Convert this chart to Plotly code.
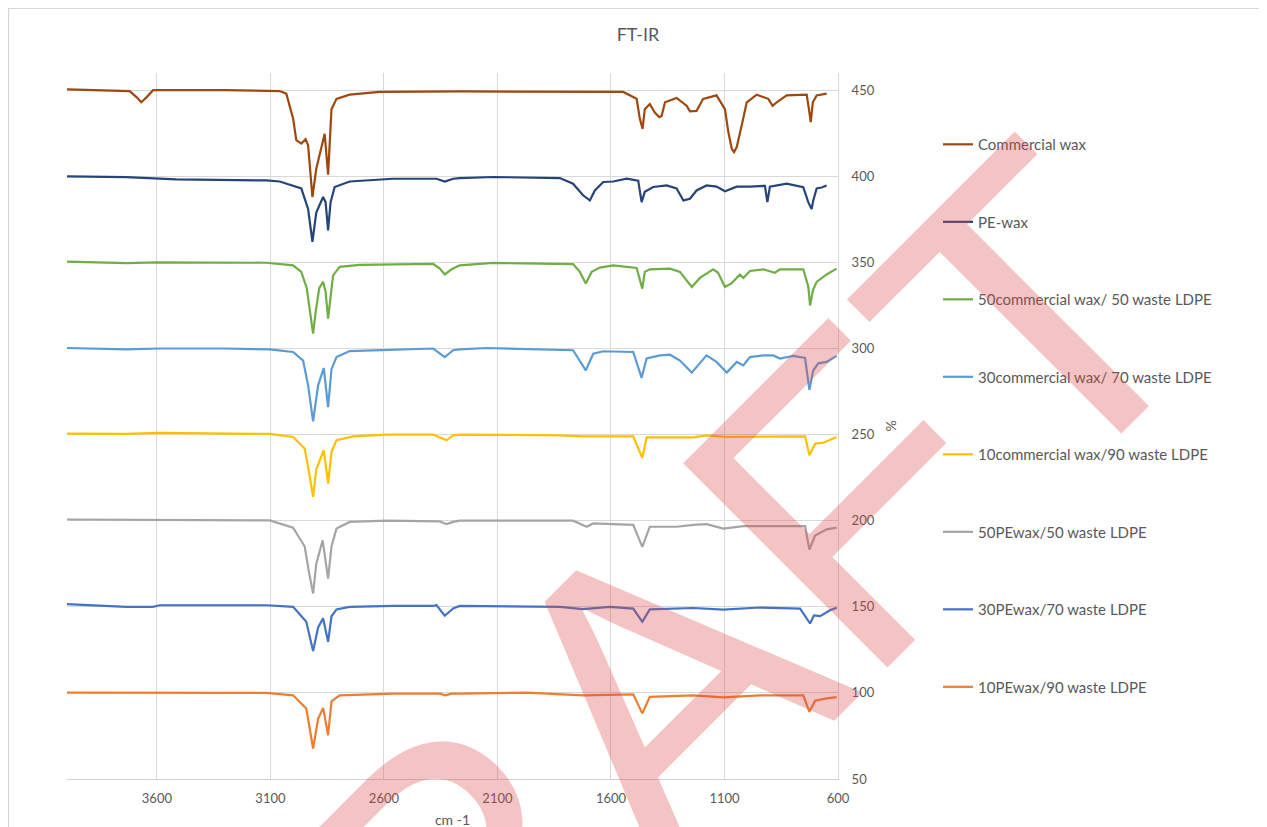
import plotly.graph_objects as go

# ---------------- data (wavenumber cm-1, offset % transmittance) ----------------
wn_commercial = [3996, 3760, 3720, 3690, 3669, 3645, 3617, 3300, 3059, 3030, 3000, 2986, 2964, 2945, 2934,
                 2915, 2898, 2861, 2846, 2831, 2809, 2751, 2619, 2266, 1546, 1487, 1473, 1461, 1451, 1429,
                 1407, 1387, 1377, 1362, 1311, 1267, 1252, 1223, 1194, 1135, 1098, 1083, 1068, 1058, 1046,
                 1024, 1002, 958, 907, 888, 870, 826, 738, 728, 720, 711, 694, 650]
pct_commercial = [450.5, 450, 449.5, 446, 443, 446, 450, 450, 449.5, 448, 433.5, 421, 419, 421.5, 418,
                  388, 404.4, 424.7, 401, 439, 445, 447.4, 449, 449.3, 449, 445, 433.5, 427.6, 439, 442,
                  437, 434.4, 435, 443, 445.5, 441, 437.7, 438, 445, 447, 439, 425.7, 416, 414, 417,
                  429.6, 443, 447.4, 445, 441, 443, 447, 447.4, 439, 431.5, 443, 447, 448]

wn_pewax = [3996, 3735, 3514, 3118, 3059, 3000, 2964, 2949, 2934, 2915, 2898, 2868, 2857, 2846, 2835, 2817,
            2751, 2560, 2369, 2332, 2295, 2266, 2119, 1825, 1767, 1723, 1693, 1671, 1634, 1590, 1531, 1480,
            1465, 1451, 1414, 1355, 1311, 1281, 1252, 1223, 1179, 1135, 1098, 1046, 988, 922, 911, 900,
            826, 753, 731, 716, 709, 694, 672, 650]
pct_pewax = [400, 399.5, 398.2, 397.6, 397, 394.7, 393, 387, 381, 362, 379, 388, 385, 368.6, 385, 393.8,
             397, 398.6, 398.6, 397, 398.6, 399, 399.6, 399, 395.7, 389, 386, 391.8, 396.7, 397, 398.6, 397.5,
             385, 391, 393.8, 394.7, 393, 386, 387, 391.8, 394.7, 394, 391.3, 394, 394, 394.5, 385, 394,
             395.7, 393.7, 385, 381, 386, 393, 393.5, 394.7]

wn_cw50 = [3996, 3808, 3735, 3603, 3118, 3000, 2964, 2940, 2925, 2912, 2900, 2885, 2868, 2857, 2846, 2835,
           2824, 2795, 2707, 2383, 2354, 2332, 2302, 2266, 2119, 1767, 1737, 1711, 1685, 1649, 1590, 1487,
           1473, 1462, 1451, 1429, 1340, 1296, 1244, 1208, 1150, 1128, 1098, 1068, 1032, 1017, 988, 929,
           878, 856, 753, 731, 723, 710, 694, 650, 606]
pct_cw50 = [350.5, 350, 349.6, 350, 349.8, 348.3, 344.5, 335, 320, 308.6, 322, 335, 338.7, 333, 317.3, 332,
            342.5, 347.4, 348.6, 349.2, 346.4, 343, 346, 348.3, 349.7, 349, 344.5, 337.7, 344.5, 347, 348.3, 346.8,
            340, 334.8, 344.5, 346, 346.4, 344.5, 335.7, 341, 346, 344, 335.7, 338, 343, 341, 345, 346,
            344, 346, 346, 336, 325, 334, 338.7, 343, 346.4]

wn_cw30 = [3996, 3794, 3735, 3588, 3309, 3103, 3000, 2956, 2934, 2912, 2890, 2865, 2846, 2831, 2809, 2751,
           2589, 2383, 2332, 2295, 2266, 2148, 1767, 1711, 1678, 1634, 1502, 1465, 1443, 1384, 1340, 1296,
           1244, 1179, 1135, 1090, 1046, 1017, 988, 929, 885, 856, 797, 745, 726, 709, 687, 650, 606]
pct_cw30 = [300.3, 300, 299.5, 300, 300, 299.5, 298, 293, 278.6, 257.7, 278.6, 288.7, 266, 288, 295, 298.5,
            299, 300, 295, 299, 299.5, 300.3, 299, 287.3, 297, 298.4, 298, 283, 294.2, 296, 296.4, 293,
            286, 296, 292.2, 286, 292.2, 290.2, 295, 296, 296, 294.2, 295.7, 294.5, 276, 287.3, 291.4, 292.2, 295.7]

wn_cw10 = [3996, 3735, 3588, 3103, 3000, 2949, 2930, 2912, 2898, 2865, 2846, 2831, 2809, 2736, 2589, 2383,
           2324, 2295, 2266, 1825, 1723, 1502, 1462, 1443, 1237, 1179, 1090, 745, 726, 701, 665, 606]
pct_cw10 = [250.6, 250.4, 251, 250.4, 248.6, 241.9, 228, 213.8, 230, 240.9, 221.6, 240, 246.7, 249, 250, 250,
            246.7, 249.6, 250, 249.6, 249, 249, 236.5, 248.4, 248.4, 249.6, 248.6, 249, 238, 244.7, 245.3, 248.6]

wn_pe50 = [3996, 3588, 3103, 3000, 2949, 2930, 2912, 2898, 2870, 2846, 2831, 2809, 2751, 2589, 2354, 2324,
           2295, 2266, 1767, 1707, 1678, 1502, 1462, 1429, 1311, 1237, 1179, 1105, 1017, 745, 726, 701, 650, 606]
pct_pe50 = [200.7, 200.3, 200.2, 196, 185, 170, 157.7, 175, 188.6, 166.4, 185, 195.4, 199.3, 200, 199.6, 198,
            199.3, 200, 200, 196.5, 198.4, 197.6, 184.8, 196.5, 196.5, 197.6, 198, 195.4, 196.8, 196.8, 183.3, 191.4, 195, 196]

wn_pe30 = [3996, 3735, 3618, 3588, 3118, 3000, 2942, 2912, 2890, 2868, 2846, 2831, 2809, 2751, 2560, 2383,
           2369, 2332, 2295, 2266, 1825, 1723, 1605, 1502, 1462, 1429, 1237, 1105, 944, 767, 723, 706, 679, 635, 606]
pct_pe30 = [151.5, 150, 150, 150.9, 150.9, 150, 141.3, 124.3, 138, 143.4, 129.7, 144.5, 148.5, 150, 150.5, 150.5,
            151, 144.8, 149, 150.5, 150, 148.7, 150, 149, 141.3, 148.5, 149.3, 148.4, 149.6, 149, 140.3, 145, 144.6, 148, 149.4]

wn_pe10 = [3996, 3441, 3118, 3000, 2942, 2912, 2890, 2868, 2846, 2831, 2795, 2560, 2354, 2330, 2302, 2266,
           1972, 1723, 1502, 1462, 1429, 1237, 1105, 944, 753, 726, 701, 650, 606]
pct_pe10 = [100.2, 100, 100, 98.6, 90.9, 67.7, 85, 91.3, 75.4, 95.1, 98.6, 99.6, 99.6, 98.6, 99.6, 99.6,
            100.2, 98.6, 99.2, 88.1, 97.7, 98.6, 97.4, 98.6, 98.6, 89, 95.5, 96.8, 97.6]

series_names = ["Commercial wax", "PE-wax", "50commercial wax/ 50 waste LDPE", "30commercial wax/ 70 waste LDPE",
                "10commercial wax/90 waste LDPE", "50PEwax/50 waste LDPE", "30PEwax/70 waste LDPE",
                "10PEwax/90 waste LDPE"]
series_x = [wn_commercial, wn_pewax, wn_cw50, wn_cw30, wn_cw10, wn_pe50, wn_pe30, wn_pe10]
series_y = [pct_commercial, pct_pewax, pct_cw50, pct_cw30, pct_cw10, pct_pe50, pct_pe30, pct_pe10]
series_colors = ["#9E480E", "#264478", "#70AD47", "#5B9BD5", "#FFC000", "#A5A5A5", "#4472C4", "#ED7D31"]

x_ticks = [3600, 3100, 2600, 2100, 1600, 1100, 600]
y_ticks = [50, 100, 150, 200, 250, 300, 350, 400, 450]

FONT = "Lato, 'Open Sans', sans-serif"
GREY = "#595959"

fig = go.Figure()
for i, (name, xs, ys, col) in enumerate(zip(series_names, series_x, series_y, series_colors)):
    fig.add_trace(go.Scatter(x=xs, y=ys, mode="lines", name=name, legendgroup=f"g{i}",
                             line=dict(color=col, width=2.2)))

fig.update_layout(
    width=1267, height=827,
    paper_bgcolor="white", plot_bgcolor="white",
    margin=dict(l=59, r=437, t=65, b=56, autoexpand=False),
    font=dict(family=FONT, color=GREY, size=14),
    title=dict(text="FT-IR", x=630 / 1267, xref="container", xanchor="center",
               y=1 - 27 / 827, yref="container", yanchor="middle",
               font=dict(family=FONT, size=18, color=GREY)),
    showlegend=True,
    legend=dict(x=1.1297, xanchor="left", y=0.922, yanchor="top", tracegroupgap=55,
                font=dict(family=FONT, size=15, color=GREY), bgcolor="rgba(0,0,0,0)"),
    xaxis=dict(range=[3996, 600], tickmode="array", tickvals=x_ticks, ticktext=[str(v) for v in x_ticks],
               showgrid=True, gridcolor="#D9D9D9", gridwidth=1, zeroline=False, automargin=False,
               showline=True, linecolor="#D0D0D0", linewidth=1, ticks="", ticklabelstandoff=7,
               tickfont=dict(family=FONT, size=13, color=GREY),
               title=dict(text="cm -1", standoff=10, font=dict(family=FONT, size=14, color=GREY))),
    yaxis=dict(range=[50, 460], side="right", tickmode="array", tickvals=y_ticks,
               showgrid=True, gridcolor="#D9D9D9", gridwidth=1, zeroline=False, automargin=False,
               showline=True, linecolor="#D9D9D9", linewidth=1, ticks="", ticklabelstandoff=10,
               tickfont=dict(family=FONT, size=13, color=GREY),
               title=dict(text="%", standoff=12, font=dict(family=FONT, size=14, color=GREY))),
    shapes=[dict(type="rect", xref="paper", yref="paper", x0=-0.0759, x1=1.6, y0=-0.12, y1=1.0914,
                 line=dict(color="#D6D6D6", width=1.2), fillcolor="rgba(0,0,0,0)", layer="above")],
    annotations=[dict(text="DRAFT", xref="paper", yref="paper", x=0.727, y=0.082,
                      xanchor="center", yanchor="middle", showarrow=False, textangle=-45,
                      font=dict(family="Liberation Sans, Arial, sans-serif", size=420,
                                color="rgba(220,70,70,0.32)"))],
)

fig.write_html("out.html")
